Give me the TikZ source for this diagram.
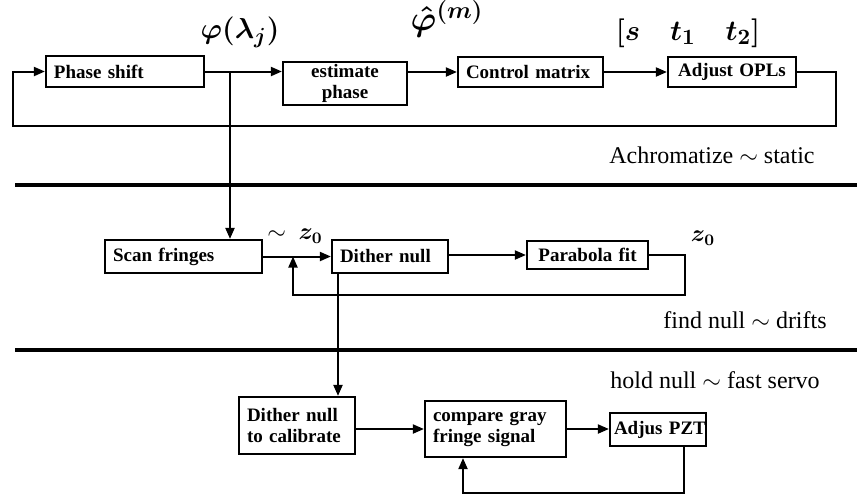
\documentclass[tikz,border=0pt]{standalone}
\usepackage{fontspec}
\usepackage{amsmath, amssymb}
\setmainfont{Liberation Serif}
\usetikzlibrary{arrows.meta}

\begin{document}
\begin{tikzpicture}[x=0.5pt,y=-0.5pt,
    blk/.style={draw,line width=1.1pt,inner xsep=4pt,inner ysep=1pt,align=left,
        font=\bfseries\fontsize{9.5}{10.5}\selectfont},
    wire/.style={line width=1pt},
    arr/.style={wire,-{Triangle[length=5.5pt,width=4.5pt]}},
    sep/.style={line width=1.8pt},
    lbl/.style={font=\fontsize{12}{14}\selectfont},
    sym/.style={font=\fontsize{15}{18}\selectfont}]

    \useasboundingbox (0,0) rectangle (857,495);

    % achromatize ~ static
    \node[blk,text width=71pt,minimum height=15.5pt] (ps) at (125,71.5) {Phase shift};
    \node[blk,align=center,text width=54pt,minimum height=20.5pt] (est) at (345,83.5) {estimate\\phase};
    \node[blk,text width=64.5pt,minimum height=15pt] (cm) at (530.5,72) {Control matrix};
    \node[blk,align=center,text width=56pt,minimum height=15pt] (adj) at (732,72) {Adjust OPLs};

    \node[sym] (phi) at (240,32) {$\boldsymbol{\varphi(\lambda_j)}$};
    \node[sym,font=\fontsize{17}{20}\selectfont] (phihat) at (447,19) {$\boldsymbol{\hat{\varphi}^{(m)}}$};
    \node[sym] (vec) at (688,33) {$\boldsymbol{[s\quad t_1\quad t_2]}$};
    \node[lbl] (stat) at (712,155) {Achromatize $\sim$ static};

    \coordinate (tap) at (230,71.5);
    \coordinate (loopR) at (836,126);
    \coordinate (loopL) at (13,126);

    \draw[arr] (ps.east) -- (ps.east -| est.west);
    \draw[arr] (est.east |- cm.west) -- (cm.west);
    \draw[arr] (cm) -- (adj);
    \draw[arr] (adj.east) -| (loopR) -- (loopL) |- (ps.west);

    \draw[sep] (15,185) -- (857,185);

    % find null ~ drifts
    \node[blk,text width=70.5pt,minimum height=16.5pt] (sf) at (183.5,256.5) {Scan fringes};
    \node[blk,text width=50pt,minimum height=16.5pt] (dn) at (390,256.5) {Dither null};
    \node[blk,align=center,text width=52.5pt,minimum height=14pt] (pf) at (587.5,255) {Parabola fit};

    \node[lbl] (z0a) at (295,236) {$\sim\ \boldsymbol{z_0}$};
    \node[lbl] (z0b) at (703,238) {$\boldsymbol{z_0}$};
    \node[lbl] (drift) at (745,320) {find null $\sim$ drifts};

    \coordinate (pfR) at (685,295);
    \coordinate (fbL) at (293,295);
    \coordinate (drop) at (338,273);

    \draw[arr] (tap) -- (tap |- sf.north);
    \draw[arr] (sf.east) -- (dn.west);
    \draw[arr] (dn.east |- pf.west) -- (pf.west);
    \draw[arr] (pf.east) -| (pfR) -- (fbL) -- (fbL |- sf.east);

    \draw[sep] (15,350) -- (857,350);

    % hold null ~ fast servo
    \node[lbl] (servo) at (715,380) {hold null $\sim$ fast servo};
    \node[blk,text width=50pt,minimum height=28.5pt] (cal) at (297,425.5) {Dither null\\to calibrate};
    \node[blk,text width=62.5pt,minimum height=28pt] (cg) at (495.5,429) {compare gray\\fringe signal};
    \node[blk,inner xsep=2pt,text width=44pt,minimum height=16.5pt] (pzt) at (658,429.5) {Adjus~PZT};

    \coordinate (pztD) at (684,493);
    \coordinate (cgD) at (463,493);

    \draw[arr] (drop) -- (drop |- cal.north);
    \draw[arr] (cg.west -| cal.east) -- (cg.west);
    \draw[arr] (cg.east) -- (cg.east -| pzt.west);
    \draw[arr] (pztD |- pzt.south) -- (pztD) -- (cgD) -- (cgD |- cg.south);

\end{tikzpicture}
\end{document}
